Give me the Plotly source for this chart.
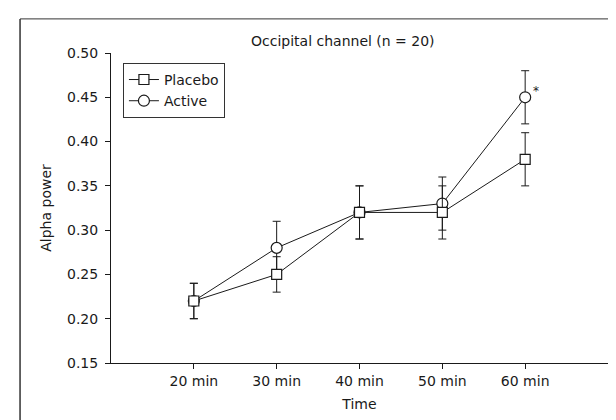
import plotly.graph_objects as go

times = ["20 min", "30 min", "40 min", "50 min", "60 min"]
placebo = [0.22, 0.25, 0.32, 0.32, 0.38]
placebo_err = [0.02, 0.02, 0.03, 0.03, 0.03]
active = [0.22, 0.28, 0.32, 0.33, 0.45]
active_err = [0.02, 0.03, 0.03, 0.03, 0.03]
y_ticks = [0.15, 0.20, 0.25, 0.30, 0.35, 0.40, 0.45, 0.50]

FONT = "DejaVu Sans"
INK = "#1a1a1a"

fig = go.Figure()
fig.add_trace(go.Scatter(
    x=times, y=active, name="Active", mode="lines+markers",
    line=dict(color=INK, width=1),
    marker=dict(symbol="circle", size=11, color="white", line=dict(color=INK, width=1.2)),
    error_y=dict(type="data", array=active_err, color=INK, thickness=1, width=4),
    legendrank=2,
))
fig.add_trace(go.Scatter(
    x=times, y=placebo, name="Placebo", mode="lines+markers",
    line=dict(color=INK, width=1),
    marker=dict(symbol="square", size=10, color="white", line=dict(color=INK, width=1.2)),
    error_y=dict(type="data", array=placebo_err, color=INK, thickness=1, width=4),
    legendrank=1,
))

fig.add_annotation(x=times[4], y=active[4], text="*", showarrow=False,
                   xanchor="left", yanchor="bottom", xshift=6, yshift=-3,
                   font=dict(family=FONT, size=12, color=INK))
fig.add_annotation(x=0.467, y=1.071, xref="paper", yref="paper",
                   text="Occipital channel (n = 20)", showarrow=False,
                   font=dict(family=FONT, size=14, color=INK))

# outer frame
fig.add_shape(type="line", xref="paper", yref="paper", x0=-0.183, x1=1.03, y0=1.11, y1=1.11,
              line=dict(color="#333", width=1))
fig.add_shape(type="line", xref="paper", yref="paper", x0=-0.183, x1=-0.183, y0=1.11, y1=-0.22,
              line=dict(color="#333", width=1.5))
fig.add_shape(type="line", xref="paper", yref="paper", x0=1.03, x1=1.03, y0=1.11, y1=-0.22,
              line=dict(color="#bbb", width=1))

fig.update_layout(
    width=616, height=420,
    margin=dict(l=103, r=16, t=45, b=65),
    paper_bgcolor="white", plot_bgcolor="white",
    font=dict(family=FONT, size=14, color=INK),
    showlegend=True,
    legend=dict(x=0.024, y=0.968, xanchor="left", yanchor="top",
                bordercolor="#333", borderwidth=1, bgcolor="white",
                font=dict(family=FONT, size=14, color=INK),
                tracegroupgap=0, itemwidth=30),
    xaxis=dict(
        type="category", range=[-1, 5], showgrid=False, zeroline=False,
        showline=True, linecolor=INK, linewidth=1,
        ticks="outside", ticklen=5, tickcolor=INK,
        title=dict(text="Time", standoff=11, font=dict(size=14)),
    ),
    yaxis=dict(
        range=[0.15, 0.50], tickvals=y_ticks, tickformat=".2f",
        showgrid=False, zeroline=False,
        showline=True, linecolor=INK, linewidth=1,
        ticks="outside", ticklen=5, tickcolor=INK, ticklabelstandoff=4,
        title=dict(text="Alpha power", standoff=12, font=dict(size=14)),
    ),
)

fig.write_html("out.html")
